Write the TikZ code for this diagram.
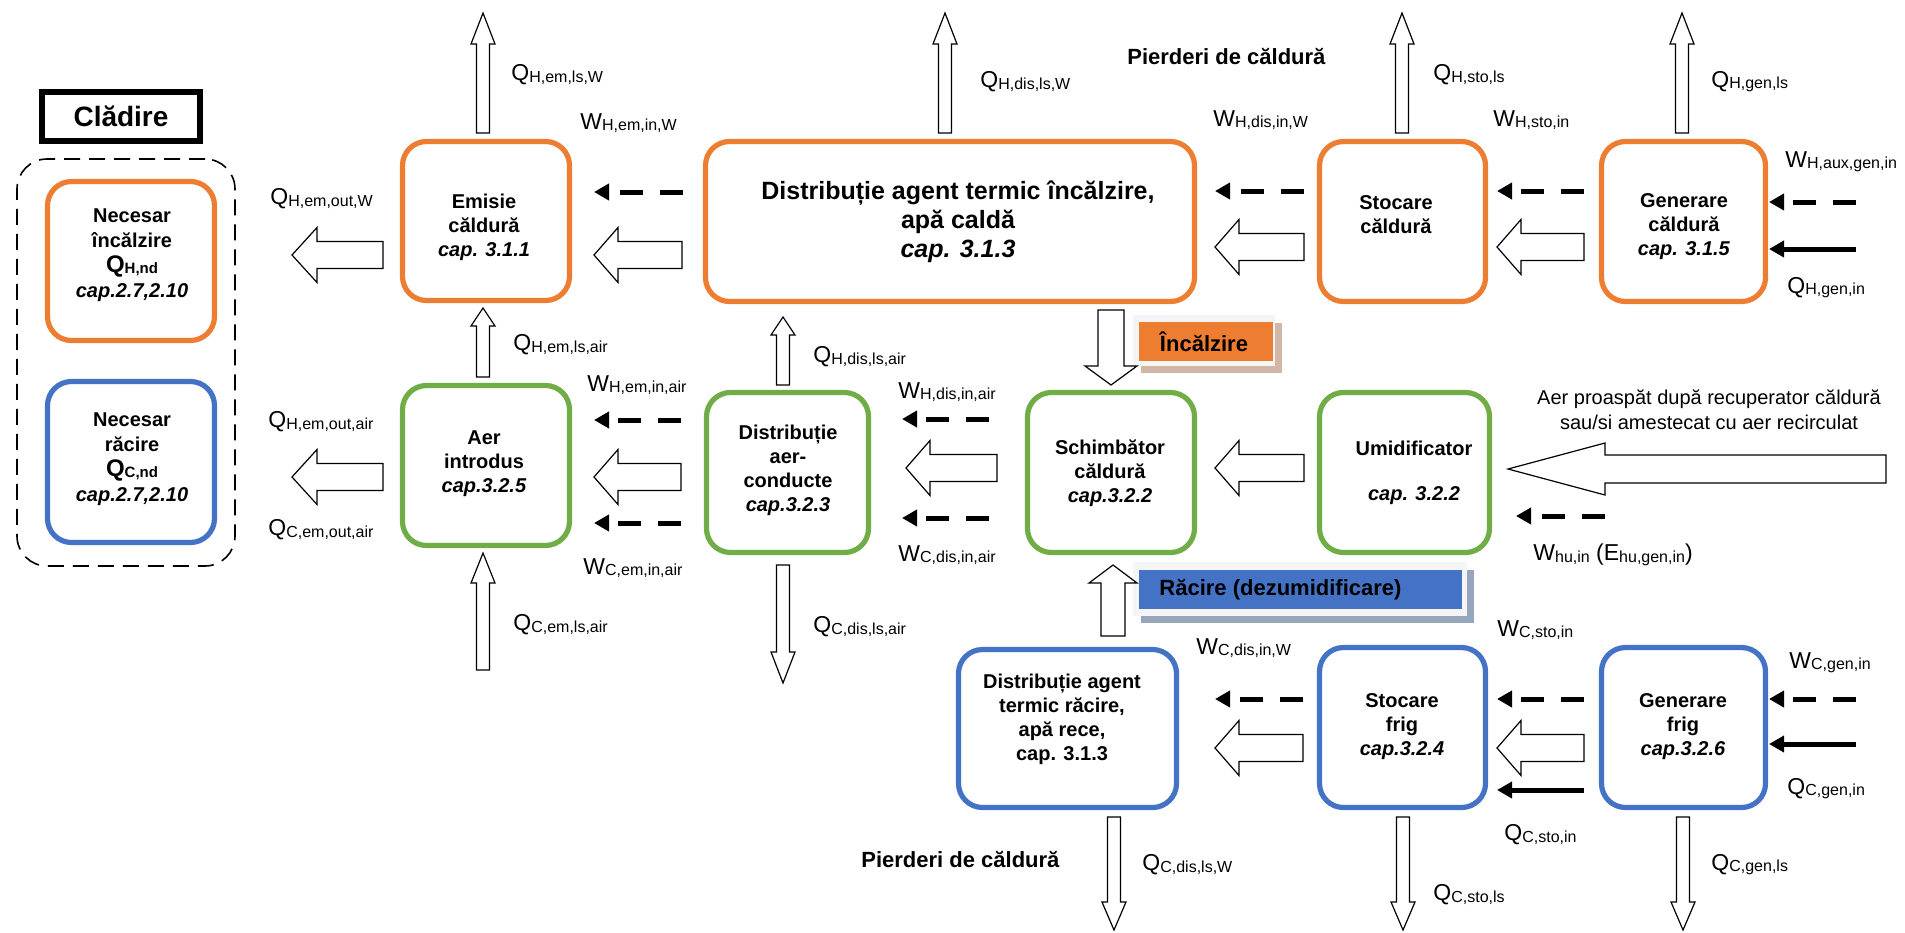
\documentclass[tikz,border=0pt]{standalone}
\usepackage{fontspec}
\setmainfont{Liberation Sans}
\usetikzlibrary{calc,arrows.meta}
\definecolor{orng}{HTML}{ED7D31}
\definecolor{blu}{HTML}{4472C4}
\definecolor{grn}{HTML}{70AD47}
\definecolor{tanshadow}{HTML}{D2B6A6}
\definecolor{blueshadow}{HTML}{97A6BD}
\newcommand\lbl[2]{{\fontsize{11.5}{13}\selectfont #1}\raisebox{-0.6pt}{\fontsize{8}{9}\selectfont #2}}
\newcommand\blbl[2]{{\fontsize{12}{13}\selectfont #1}\raisebox{-0.6pt}{\fontsize{7.5}{9}\selectfont #2}}
% block (hollow) arrow: tail, tip, shaft half width, head half width, head length
\newcommand\barrow[5]{%
  \coordinate (bah) at ($(#2)!#5!(#1)$);
  \draw[blockarr] ($(#1)!#3!90:(#2)$) -- ($(bah)!#3!90:(#2)$) -- ($(bah)!#4!90:(#2)$) -- (#2)
    -- ($(bah)!#4!-90:(#2)$) -- ($(bah)!#3!-90:(#2)$) -- ($(#1)!#3!-90:(#2)$) -- cycle;}
\begin{document}
\begin{tikzpicture}[x=0.5pt,y=-0.5pt,
  box/.style={draw, rounded corners=12pt, line width=2.6pt, inner sep=0pt, fill=white},
  obox/.style={box, draw=orng},
  gbox/.style={box, draw=grn},
  bbox/.style={box, draw=blu},
  btxt/.style={font=\fontsize{10}{12}\selectfont\bfseries, align=center, inner sep=0pt},
  lab/.style={anchor=west, inner sep=0pt},
  dasharr/.style={line width=2.5pt, dash pattern=on 11.5pt off 8.5pt, -{Triangle[length=7.5pt,width=8pt]}},
  solarr/.style={line width=2.5pt, -{Triangle[length=7.5pt,width=8pt]}},
  blockarr/.style={draw=black, line width=0.6pt, fill=white, line join=miter}
]
\useasboundingbox (0,0) rectangle (1905,932);

% ---- building ----
\node[draw, line width=3pt, minimum width=79pt, minimum height=24.5pt, inner sep=0pt,
      font=\fontsize{14}{16}\selectfont\bfseries] (cladire) at (121,116.5) {Clădire};
\node[draw, dash pattern=on 8pt off 4.5pt, line width=0.8pt, rounded corners=15pt,
      minimum width=109pt, minimum height=203.5pt] (building) at (126,362.5) {};
\node[obox, minimum width=83.5pt, minimum height=79.5pt] (nechd) at (131,261) {};
\node[bbox, minimum width=83.5pt, minimum height=80.5pt] (necr) at (131,462) {};
\node[btxt, font=\fontsize{10}{12.6}\selectfont\bfseries] (nechdt) at (132,255) {Necesar\\încălzire\\\blbl{Q}{H,nd}\\\textit{cap.2.7,2.10}};
\node[btxt, font=\fontsize{10}{12.6}\selectfont\bfseries] (necrt) at (132,459) {Necesar\\răcire\\\blbl{Q}{C,nd}\\\textit{cap.2.7,2.10}};

% ---- heating row ----
\node[obox, minimum width=83.5pt, minimum height=79.5pt] (emisie) at (486,221) {};
\node[obox, minimum width=244.5pt, minimum height=80pt] (distH) at (950,221.5) {};
\node[obox, minimum width=83pt, minimum height=80pt] (stoH) at (1402.5,221.5) {};
\node[obox, minimum width=82pt, minimum height=80pt] (genH) at (1683.5,221.5) {};
\node[btxt] (emisiet) at (484,227) {Emisie\\căldură\\\textit{cap. 3.1.1}};
\node[btxt, font=\fontsize{12.5}{14.5}\selectfont\bfseries] (distHt) at (958,222) {Distribuție agent termic încălzire,\\apă caldă\\\textit{cap. 3.1.3}};
\node[btxt] (stoHt) at (1396,215) {Stocare\\căldură};
\node[btxt] (genHt) at (1684,227) {Generare\\căldură\\\textit{cap. 3.1.5}};

% ---- air row ----
\node[gbox, minimum width=83.5pt, minimum height=80pt] (aer) at (486,465.5) {};
\node[gbox, minimum width=81pt, minimum height=80pt] (distA) at (787.5,472.5) {};
\node[gbox, minimum width=83.5pt, minimum height=80pt] (schimb) at (1111,472.5) {};
\node[gbox, minimum width=85pt, minimum height=80pt] (umid) at (1404.5,472.5) {};
\node[btxt] (aert) at (484,464) {Aer\\introdus\\\textit{cap.3.2.5}};
\node[btxt] (distAt) at (788,470) {Distribuție\\aer-\\conducte\\\textit{cap.3.2.3}};
\node[btxt] (schimbt) at (1110,473) {Schimbător\\căldură\\\textit{cap.3.2.2}};
\node[btxt] (umidt) at (1414,473) {Umidificator\\[10.5pt]\textit{cap. 3.2.2}};

% ---- cooling row ----
\node[bbox, minimum width=109pt, minimum height=79pt] (distC) at (1067.5,728.5) {};
\node[bbox, minimum width=83pt, minimum height=80pt] (stoC) at (1402.5,727.5) {};
\node[bbox, minimum width=82pt, minimum height=80pt] (genC) at (1683.5,727.5) {};
\node[btxt] (distCt) at (1062,719) {Distribuție agent\\termic răcire,\\apă rece,\\cap. 3.1.3};
\node[btxt] (stoCt) at (1402,727) {Stocare\\frig\\\textit{cap.3.2.4}};
\node[btxt] (genCt) at (1683,727) {Generare\\frig\\\textit{cap.3.2.6}};

% ---- mode tags ----
\fill[tanshadow] (1141,323) rectangle (1282,373);
\fill[gray!8] (1133,315) rectangle (1275,366);
\node[fill=orng, minimum width=67pt, minimum height=19.5pt, inner sep=0pt] (incalz) at (1206,341.5) {};
\node[font=\fontsize{11}{13}\selectfont\bfseries, inner sep=0pt] (incalzt) at (1204,341.5) {Încălzire};
\fill[blueshadow] (1141,570) rectangle (1474,623);
\fill[gray!8] (1133,562) rectangle (1467,616);
\node[fill=blu, minimum width=161.5pt, minimum height=19.5pt, inner sep=0pt] (racire) at (1300.5,589.5) {};
\node[font=\fontsize{11}{13}\selectfont\bfseries, inner sep=0pt, anchor=west] (raciret) at (1159,590) {Răcire (dezumidificare)};

% ---- hollow arrows: heating row ----
\barrow{483,133}{483,13}{3.25pt}{6pt}{15.5pt}
\barrow{945,133}{945,13}{3.25pt}{6pt}{15.5pt}
\barrow{1402,133}{1402,13}{3.25pt}{6pt}{15.5pt}
\barrow{1682,133}{1682,13}{3.25pt}{6pt}{15.5pt}
\barrow{383,255}{292,255}{6.75pt}{13.75pt}{12.5pt}
\barrow{682,255}{594,255}{6.75pt}{13.75pt}{12pt}
\barrow{1304,247}{1215,247}{6.75pt}{13.75pt}{12pt}
\barrow{1584,247}{1497,247}{6.75pt}{13.75pt}{12pt}
\barrow{1111,310}{1111,385}{6.5pt}{13pt}{9.5pt}

% ---- hollow arrows: air row ----
\barrow{483,377}{483,308}{3.25pt}{6pt}{9pt}
\barrow{483,670}{483,553}{3.25pt}{6pt}{15pt}
\barrow{783,385}{783,317}{3.25pt}{6pt}{9pt}
\barrow{783,565}{783,683}{3.25pt}{6pt}{15.5pt}
\barrow{383,477}{292,477}{6.75pt}{13.75pt}{12.5pt}
\barrow{681,477}{594,477}{6.75pt}{13.75pt}{12pt}
\barrow{997,468}{906,468}{6.75pt}{13.75pt}{12pt}
\barrow{1304,468}{1215,468}{6.75pt}{13.75pt}{12pt}
\barrow{1886,469}{1508,469}{7pt}{13pt}{48.5pt}
\barrow{1113,636}{1113,565}{6pt}{12pt}{9pt}

% ---- hollow arrows: cooling row ----
\barrow{1303,748}{1215,748}{6.75pt}{13.75pt}{12pt}
\barrow{1584,748}{1497,748}{6.75pt}{13.75pt}{12pt}
\barrow{1114,817}{1114,930}{3.25pt}{6pt}{14pt}
\barrow{1403,817}{1403,930}{3.25pt}{6pt}{14pt}
\barrow{1683,817}{1683,930}{3.25pt}{6pt}{14pt}

% ---- dashed / solid arrows ----
\draw[dasharr] (683,192) -- (594,192);
\draw[dasharr] (1304,191) -- (1215,191);
\draw[dasharr] (1584,191) -- (1497,191);
\draw[dasharr] (1856,202) -- (1769,202);
\draw[solarr] (1856,249) -- (1769,249);
\draw[dasharr] (681,420) -- (594,420);
\draw[dasharr] (681,523) -- (594,523);
\draw[dasharr] (989,419) -- (902,419);
\draw[dasharr] (989,518) -- (902,518);
\draw[dasharr] (1605,516) -- (1516,516);
\draw[dasharr] (1303,699) -- (1215,699);
\draw[dasharr] (1584,699) -- (1497,699);
\draw[solarr] (1584,790) -- (1497,790);
\draw[dasharr] (1856,699) -- (1769,699);
\draw[solarr] (1856,744) -- (1769,744);

% ---- labels ----
\node[lab] (l1) at (511,75) {\lbl{Q}{H,em,ls,W}};
\node[lab] (l2) at (580,123) {\lbl{W}{H,em,in,W}};
\node[lab] (l3) at (980,82) {\lbl{Q}{H,dis,ls,W}};
\node[lab, font=\fontsize{11}{13}\selectfont\bfseries] (pierd1) at (1127,57) {Pierderi de căldură};
\node[lab] (l4) at (1213,120) {\lbl{W}{H,dis,in,W}};
\node[lab] (l5) at (1433,75) {\lbl{Q}{H,sto,ls}};
\node[lab] (l6) at (1493,120) {\lbl{W}{H,sto,in}};
\node[lab] (l7) at (1711,82) {\lbl{Q}{H,gen,ls}};
\node[lab] (l8) at (1785,162) {\lbl{W}{H,aux,gen,in}};
\node[lab] (l9) at (1787,288) {\lbl{Q}{H,gen,in}};
\node[lab] (l10) at (270,199) {\lbl{Q}{H,em,out,W}};
\node[lab] (l11) at (513,345) {\lbl{Q}{H,em,ls,air}};
\node[lab] (l12) at (587,385) {\lbl{W}{H,em,in,air}};
\node[lab] (l13) at (268,422) {\lbl{Q}{H,em,out,air}};
\node[lab] (l14) at (268,530) {\lbl{Q}{C,em,out,air}};
\node[lab] (l15) at (583,568) {\lbl{W}{C,em,in,air}};
\node[lab] (l16) at (513,625) {\lbl{Q}{C,em,ls,air}};
\node[lab] (l17) at (813,357) {\lbl{Q}{H,dis,ls,air}};
\node[lab] (l18) at (898,392) {\lbl{W}{H,dis,in,air}};
\node[lab] (l19) at (898,555) {\lbl{W}{C,dis,in,air}};
\node[lab] (l20) at (813,627) {\lbl{Q}{C,dis,ls,air}};
\node[align=center, inner sep=0pt, font=\fontsize{10}{12.5}\selectfont] (aerp) at (1709,409.5) {Aer proaspăt după recuperator căldură\\sau/si amestecat cu aer recirculat};
\node[lab] (l21) at (1533,555) {\lbl{W}{hu,in}{\fontsize{11.5}{13}\selectfont\ (}\lbl{E}{hu,gen,in}{\fontsize{11.5}{13}\selectfont )}};
\node[lab] (l22) at (1196,648) {\lbl{W}{C,dis,in,W}};
\node[lab] (l23) at (1497,630) {\lbl{W}{C,sto,in}};
\node[lab] (l24) at (1789,663) {\lbl{W}{C,gen,in}};
\node[lab] (l25) at (1504,835) {\lbl{Q}{C,sto,in}};
\node[lab] (l26) at (1787,789) {\lbl{Q}{C,gen,in}};
\node[lab, font=\fontsize{11}{13}\selectfont\bfseries] (pierd2) at (861,860) {Pierderi de căldură};
\node[lab] (l27) at (1142,865) {\lbl{Q}{C,dis,ls,W}};
\node[lab] (l28) at (1433,895) {\lbl{Q}{C,sto,ls}};
\node[lab] (l29) at (1711,865) {\lbl{Q}{C,gen,ls}};
\end{tikzpicture}
\end{document}
